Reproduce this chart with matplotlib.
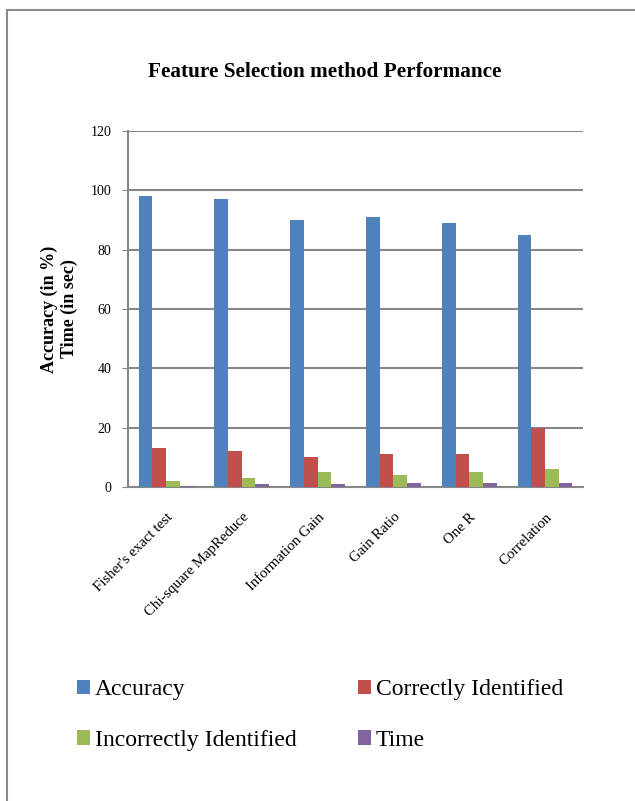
import matplotlib
matplotlib.use('Agg')
import matplotlib.pyplot as plt
import numpy as np
from matplotlib.lines import Line2D

plt.rcParams['font.family'] = ['Liberation Serif', 'DejaVu Serif']

# 数据
methods = ["Fisher's exact test", 'Chi-square MapReduce', 'Information Gain',
           'Gain Ratio', 'One R', 'Correlation']
accuracy = [98, 97, 90, 91, 89, 85]
correct = [13, 12, 10, 11, 11, 20]
incorrect = [2, 3, 5, 4, 5, 6]
time_sec = [0.5, 0.9, 1.1, 1.5, 1.2, 1.5]

series = [('Accuracy', accuracy, '#4F81BD'),
          ('Correctly Identified', correct, '#C0504D'),
          ('Incorrectly Identified', incorrect, '#9BBB59'),
          ('Time', time_sec, '#8064A2')]

fig = plt.figure(figsize=(6.35, 8.01), dpi=100)
ax = fig.add_axes([128/635, 1-487/801, (583-128)/635, (487-131)/801])

x = np.arange(len(methods))
w = 0.18
handles = []
for i, (name, vals, col) in enumerate(series):
    b = ax.bar(x + (i - 1.5) * w, vals, w, color=col, label=name, zorder=3)
    handles.append(b)

ax.set_xlim(-0.5, len(methods) - 0.5)
ax.set_ylim(0, 120)
ax.set_yticks(range(0, 121, 20))
ax.yaxis.grid(True, color='#878787', linewidth=1.5, zorder=0)
ax.set_axisbelow(True)
for s in ['top', 'right']:
    ax.spines[s].set_visible(False)
ax.spines['left'].set_color('#878787')
ax.spines['left'].set_linewidth(1.5)
ax.spines['bottom'].set_color('#878787')
ax.spines['bottom'].set_linewidth(1.5)
ax.tick_params(axis='y', length=4, color='#878787', labelsize=10, pad=8)
ax.tick_params(axis='x', length=0, labelsize=10.7, pad=17)
ax.set_xticks(x)
ax.set_xticklabels(methods, rotation=45, ha='right', rotation_mode='anchor')

ax.set_ylabel('Accuracy (in %)\nTime (in sec)', fontsize=13, fontweight='bold', labelpad=9)

fig.text(325/635, 1-72/801, 'Feature Selection method Performance',
         ha='center', va='center', fontsize=15.3, fontweight='bold')

# 图例 (行优先顺序)
order = [0, 2, 1, 3]
fig.legend([handles[i] for i in order], [series[i][0] for i in order],
           ncol=2, loc='upper left', bbox_to_anchor=(56/635, 1-658/801),
           frameon=False, fontsize=17, handlelength=0.55, handleheight=0.55,
           handletextpad=0.2, columnspacing=2.6, labelspacing=1.25)

# 外框
fig.add_artist(Line2D([7/635, 7/635], [0, 1-10/801], color='#8a8a8a', lw=1.5))
fig.add_artist(Line2D([7/635, 1], [1-10/801, 1-10/801], color='#8a8a8a', lw=1.5))

fig.savefig('out.png', dpi=100)
